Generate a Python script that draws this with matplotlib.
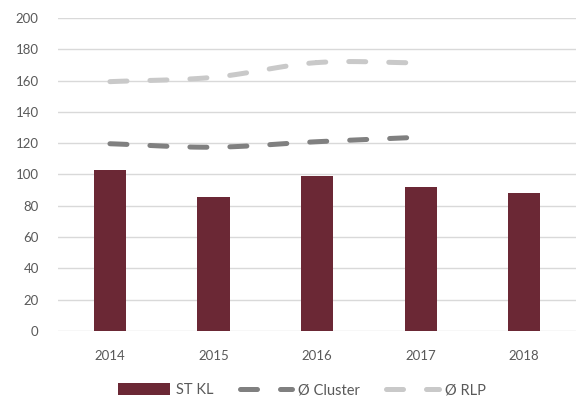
import numpy as np
import matplotlib.pyplot as plt

jahre = ['2014', '2015', '2016', '2017', '2018']
st_kl = [102.5, 85.7, 99.1, 91.8, 88.2]
cluster = [119.6, 117.4, 120.9, 123.8]
rlp = [159.3, 162.1, 171.5, 171.3]

plt.rcParams['font.family'] = ['Lato', 'DejaVu Sans']
textfarbe = '#595959'


def glatt(y, n=30):
    # Catmull-Rom Kurve durch die Punkte (wie Excel "geglättete Linie")
    y = np.asarray(y, dtype=float)
    x = np.arange(len(y), dtype=float)
    p = np.concatenate([[2 * y[0] - y[1]], y, [2 * y[-1] - y[-2]]])
    xs, ys = [], []
    for i in range(len(y) - 1):
        t = np.linspace(0, 1, n)
        p0, p1, p2, p3 = p[i], p[i + 1], p[i + 2], p[i + 3]
        yy = 0.5 * (2 * p1 + (-p0 + p2) * t + (2 * p0 - 5 * p1 + 4 * p2 - p3) * t ** 2
                    + (-p0 + 3 * p1 - 3 * p2 + p3) * t ** 3)
        xs.append(x[i] + t)
        ys.append(yy)
    return np.concatenate(xs), np.concatenate(ys)


fig = plt.figure(figsize=(5.76, 4.0), dpi=100)
ax = fig.add_axes([0.101, 0.173, 0.899, 0.782])

x = np.arange(len(jahre))
balken = ax.bar(x, st_kl, width=0.31, color='#6b2835', label='ST KL', zorder=2)

strich = (0, (3.4, 4.6))
xc, yc = glatt(cluster)
l1, = ax.plot(xc, yc, color='#808080', lw=3.6, ls=strich, dash_capstyle='round',
              label='Ø Cluster', zorder=3)
xr, yr = glatt(rlp)
l2, = ax.plot(xr, yr, color='#c9c9c9', lw=3.6, ls=strich, dash_capstyle='round',
              label='Ø RLP', zorder=3)

ax.set_ylim(0, 200)
ax.set_xlim(-0.5, len(jahre) - 0.5)
ax.set_yticks(range(0, 201, 20))
ax.set_xticks(x)
ax.set_xticklabels(jahre)
ax.grid(axis='y', color='#d9d9d9', lw=1, zorder=0)
ax.set_axisbelow(True)
for s in ax.spines.values():
    s.set_visible(False)
ax.tick_params(length=0, colors=textfarbe, labelsize=9.5)
ax.tick_params(axis='y', pad=14)
ax.tick_params(axis='x', pad=14)

ax.legend([balken, l1, l2], ['ST KL', 'Ø Cluster', 'Ø RLP'],
          loc='upper center', bbox_to_anchor=(0.47, -0.125), ncol=3, frameon=False,
          fontsize=10.5, labelcolor=textfarbe, handlelength=3.6, handleheight=0.9,
          columnspacing=1.8, handletextpad=0.4)

fig.savefig('out.png', dpi=100)
